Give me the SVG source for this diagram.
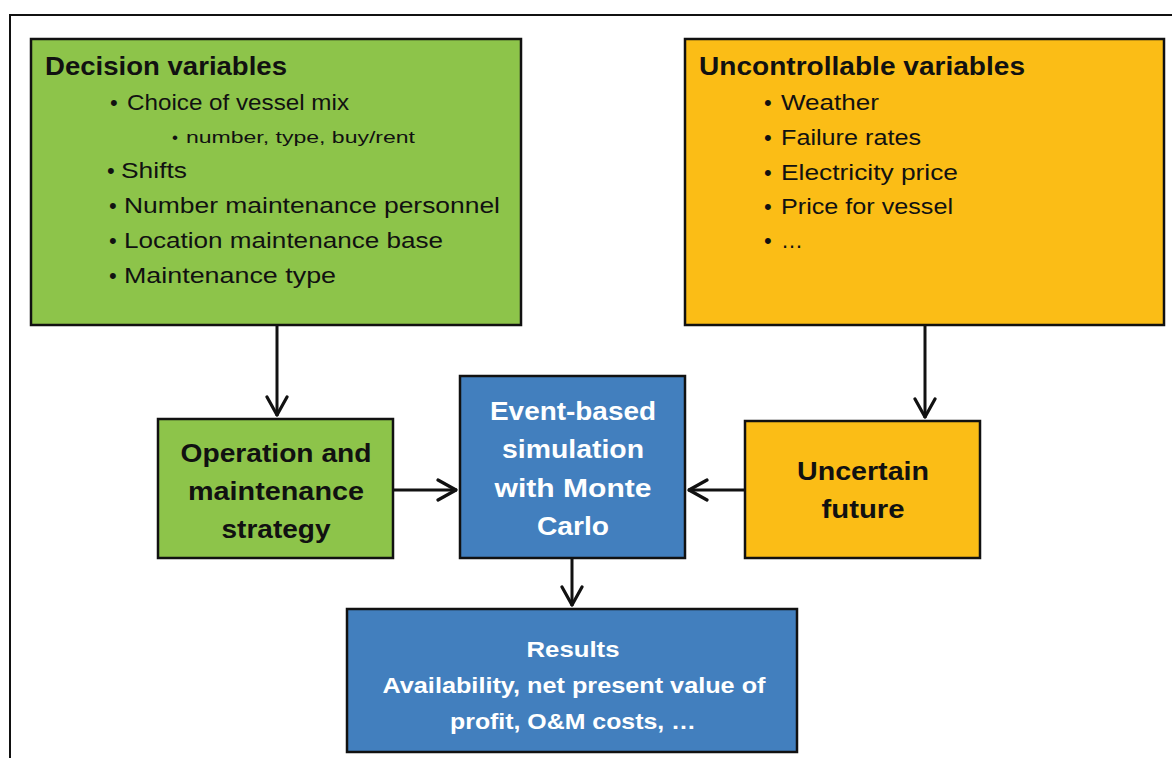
<svg xmlns="http://www.w3.org/2000/svg" width="1172" height="758" viewBox="0 0 1172 758">
<style>
.box{stroke:#111;stroke-width:2.5}
.green{fill:#8DC44A}
.orange{fill:#FBBD16}
.blue{fill:#427FBE}
text{font-family:"Liberation Sans",Arial,sans-serif;fill:#111}
.title{font-size:26px;font-weight:bold}
.item{font-size:22px}
.sub{font-size:17px}
.lbl{font-size:26px;font-weight:bold;text-anchor:middle}
.w{fill:#fff}
.res{font-size:22px;font-weight:bold;text-anchor:middle;fill:#fff}
.conn{stroke:#111;stroke-width:3;fill:none}
</style>
<defs>
<marker id="arr" viewBox="0 0 24 24" refX="22" refY="12" markerWidth="24" markerHeight="24" markerUnits="userSpaceOnUse" orient="auto">
<path d="M3,2 L21,12 L3,22" fill="none" stroke="#111" stroke-width="3.2" stroke-linecap="round" stroke-linejoin="round"/>
</marker>
</defs>
<rect width="1172" height="758" fill="#fff"/>
<path d="M10,758 L10,15 L1172,15" fill="none" stroke="#111" stroke-width="2"/>

<g id="decision-variables">
<rect class="box green" x="31" y="39" width="490" height="286"/>
<text class="title" x="45" y="75" textLength="242" lengthAdjust="spacingAndGlyphs">Decision variables</text>
<text class="item" x="110" y="110">•</text><text class="item" x="127" y="110" textLength="222" lengthAdjust="spacingAndGlyphs">Choice of vessel mix</text>
<text class="sub" x="172" y="143">•</text><text class="sub" x="186" y="143" textLength="229" lengthAdjust="spacingAndGlyphs">number, type, buy/rent</text>
<text class="item" x="107" y="178">•</text><text class="item" x="121" y="178" textLength="66" lengthAdjust="spacingAndGlyphs">Shifts</text>
<text class="item" x="109" y="213">•</text><text class="item" x="124" y="213" textLength="376" lengthAdjust="spacingAndGlyphs">Number maintenance personnel</text>
<text class="item" x="109" y="248">•</text><text class="item" x="124" y="248" textLength="319" lengthAdjust="spacingAndGlyphs">Location maintenance base</text>
<text class="item" x="109" y="283">•</text><text class="item" x="124" y="283" textLength="212" lengthAdjust="spacingAndGlyphs">Maintenance type</text>
</g>

<g id="uncontrollable-variables">
<rect class="box orange" x="685" y="39" width="479" height="286"/>
<text class="title" x="699" y="75" textLength="326" lengthAdjust="spacingAndGlyphs">Uncontrollable variables</text>
<text class="item" x="764" y="110">•</text><text class="item" x="781" y="110" textLength="98" lengthAdjust="spacingAndGlyphs">Weather</text>
<text class="item" x="764" y="145">•</text><text class="item" x="781" y="145" textLength="140" lengthAdjust="spacingAndGlyphs">Failure rates</text>
<text class="item" x="764" y="180">•</text><text class="item" x="781" y="180" textLength="177" lengthAdjust="spacingAndGlyphs">Electricity price</text>
<text class="item" x="764" y="214">•</text><text class="item" x="781" y="214" textLength="172" lengthAdjust="spacingAndGlyphs">Price for vessel</text>
<text class="item" x="764" y="248">•</text><text class="item" x="781" y="248">…</text>
</g>

<g id="om-strategy">
<rect class="box green" x="158" y="419" width="235" height="139"/>
<text class="lbl" x="276" y="462" textLength="191" lengthAdjust="spacingAndGlyphs">Operation and</text>
<text class="lbl" x="276" y="500" textLength="176" lengthAdjust="spacingAndGlyphs">maintenance</text>
<text class="lbl" x="276" y="538" textLength="109" lengthAdjust="spacingAndGlyphs">strategy</text>
</g>

<g id="simulation">
<rect class="box blue" x="460" y="376" width="225" height="182"/>
<text class="lbl w" x="573" y="420" textLength="166" lengthAdjust="spacingAndGlyphs">Event-based</text>
<text class="lbl w" x="573" y="458" textLength="142" lengthAdjust="spacingAndGlyphs">simulation</text>
<text class="lbl w" x="573" y="497" textLength="157" lengthAdjust="spacingAndGlyphs">with Monte</text>
<text class="lbl w" x="573" y="535" textLength="72" lengthAdjust="spacingAndGlyphs">Carlo</text>
</g>

<g id="uncertain-future">
<rect class="box orange" x="745" y="421" width="235" height="137"/>
<text class="lbl" x="863" y="480" textLength="132" lengthAdjust="spacingAndGlyphs">Uncertain</text>
<text class="lbl" x="863" y="518" textLength="83" lengthAdjust="spacingAndGlyphs">future</text>
</g>

<g id="results">
<rect class="box blue" x="347" y="609" width="450" height="143"/>
<text class="res" x="573" y="657" font-size="25" textLength="93" lengthAdjust="spacingAndGlyphs">Results</text>
<text class="res" x="574" y="693" textLength="383" lengthAdjust="spacingAndGlyphs">Availability, net present value of</text>
<text class="res" x="573" y="729" textLength="246" lengthAdjust="spacingAndGlyphs">profit, O&amp;M costs, …</text>
</g>

<g id="connectors">
<path class="conn" d="M277,325 L277,416" marker-end="url(#arr)"/>
<path class="conn" d="M925,325 L925,418" marker-end="url(#arr)"/>
<path class="conn" d="M393,490 L457,490" marker-end="url(#arr)"/>
<path class="conn" d="M745,490 L688,490" marker-end="url(#arr)"/>
<path class="conn" d="M572,558 L572,606" marker-end="url(#arr)"/>
</g>
</svg>
